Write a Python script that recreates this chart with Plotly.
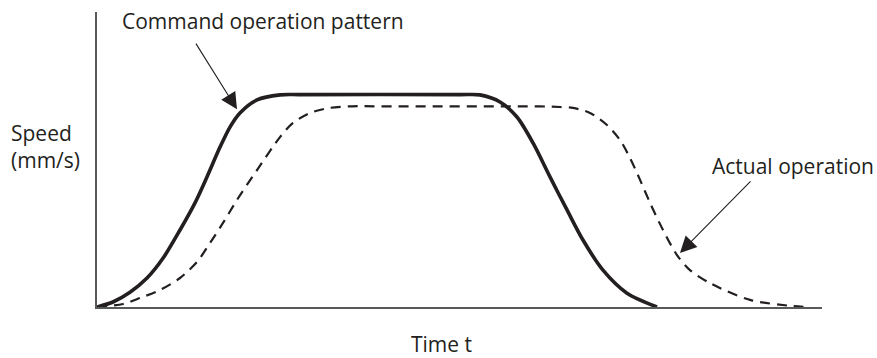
import plotly.graph_objects as go

# Command operation pattern (solid) - time t, speed
cmd_t = [0.0, 0.22, 0.455, 0.69, 0.91, 1.145, 1.352, 1.517, 1.697, 1.834, 1.972, 2.207, 2.524, 2.80,
         5.007, 5.283, 5.559, 5.793, 6.014, 6.248, 6.483, 6.703, 6.979, 7.310, 7.724]
cmd_v = [0.0, 0.17, 0.50, 0.98, 1.65, 2.61, 3.53, 4.41, 5.42, 6.10, 6.58, 7.02, 7.19, 7.20,
         7.20, 7.19, 6.95, 6.44, 5.56, 4.41, 3.29, 2.27, 1.25, 0.47, 0.0]

# Actual operation (dashed)
act_t = [0.0, 0.359, 0.593, 0.869, 1.145, 1.379, 1.559, 1.738, 1.931, 2.207, 2.524, 2.703,
         2.938, 3.214, 3.586, 3.903, 6.11, 6.386, 6.566, 6.800, 7.034, 7.214, 7.352, 7.490, 7.628,
         7.807, 8.0, 8.179, 8.455, 9.007, 9.6, 9.834]
act_v = [0.0, 0.10, 0.305, 0.576, 0.983, 1.525, 2.17, 2.85, 3.63, 4.64, 5.76, 6.24,
         6.58, 6.75, 6.81, 6.80, 6.80, 6.78, 6.75, 6.58, 6.17, 5.66, 5.05, 4.31, 3.53,
         2.61, 1.76, 1.25, 0.81, 0.24, 0.03, 0.0]

labels = {
    "cmd": "Command operation pattern",
    "act": "Actual operation",
    "y": "Speed<br>(mm/s)",
    "x": "Time t",
}

INK = "#231f20"
FONT = "Open Sans"

fig = go.Figure()
fig.add_trace(go.Scatter(x=cmd_t, y=cmd_v, mode="lines",
                         line=dict(color=INK, width=3.6, shape="spline", smoothing=0.8),
                         hoverinfo="skip"))
fig.add_trace(go.Scatter(x=act_t, y=act_v, mode="lines",
                         line=dict(color=INK, width=2.2, dash="10px,7px", shape="spline", smoothing=0.8),
                         hoverinfo="skip"))

def px_x(p):
    return (p - 97) / 725.0

def px_y(p):
    return (307 - p) / 295.0

ann = []
ann.append(dict(text=labels["cmd"], xref="paper", yref="paper", x=px_x(120), y=px_y(21),
                xanchor="left", yanchor="middle", showarrow=False,
                font=dict(family=FONT, size=21, color=INK)))
ann.append(dict(text=labels["act"], xref="paper", yref="paper", x=px_x(710), y=px_y(166),
                xanchor="left", yanchor="middle", showarrow=False,
                font=dict(family=FONT, size=21, color=INK)))
ann.append(dict(text=labels["y"], xref="paper", yref="paper", x=px_x(9), y=px_y(146),
                xanchor="left", yanchor="middle", align="left", showarrow=False,
                font=dict(family=FONT, size=21, color=INK)))
ann.append(dict(text=labels["x"], xref="paper", yref="paper", x=px_x(441), y=px_y(344),
                xanchor="center", yanchor="middle", showarrow=False,
                font=dict(family=FONT, size=21, color=INK)))
# pointer arrows
ann.append(dict(text="", x=1.931, y=6.70, xref="x", yref="y",
                ax=1.352, ay=8.98, axref="x", ayref="y",
                showarrow=True, arrowhead=2, arrowsize=3.0, arrowwidth=1.1, arrowcolor=INK))
ann.append(dict(text="", x=8.041, y=1.83, xref="x", yref="y",
                ax=9.034, ay=4.31, axref="x", ayref="y",
                showarrow=True, arrowhead=2, arrowsize=3.0, arrowwidth=1.1, arrowcolor=INK))

fig.update_layout(
    width=877, height=358,
    margin=dict(l=97, r=55, t=12, b=51),
    paper_bgcolor="white", plot_bgcolor="white",
    showlegend=False,
    hovermode=False,
    annotations=ann,
    xaxis=dict(range=[0, 10], showgrid=False, zeroline=False, showticklabels=False,
               ticks="", showline=True, linecolor="#58595b", linewidth=1.6, fixedrange=True),
    yaxis=dict(range=[0, 10], showgrid=False, zeroline=False, showticklabels=False,
               ticks="", showline=True, linecolor="#58595b", linewidth=1.6, fixedrange=True),
)

fig.write_html("out.html", config={"displayModeBar": False},
               post_script="document.body.style.margin='0';document.body.style.overflow='hidden';")
